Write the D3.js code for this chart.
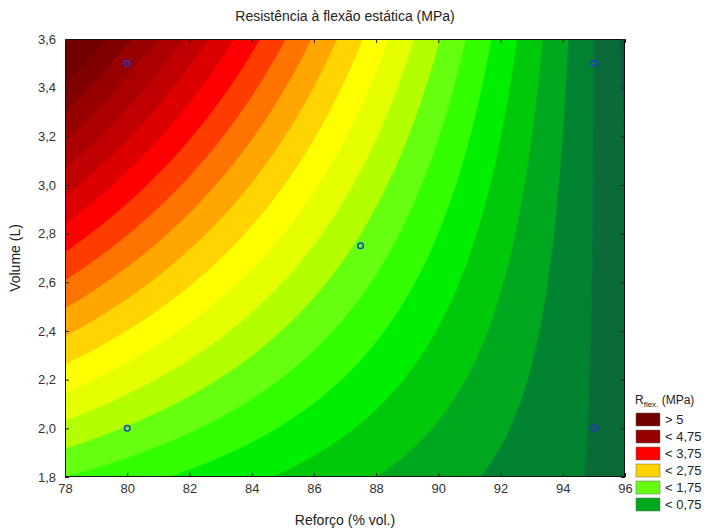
<!DOCTYPE html>
<html>
<head>
<meta charset="utf-8">
<script src="https://cdn.jsdelivr.net/npm/d3@7"></script>
<style>
  html, body { margin: 0; padding: 0; background: #fff; }
  svg { display: block; font-family: "Liberation Sans", Arial, sans-serif; }
</style>
</head>
<body>
<svg id="chart" width="709" height="531"></svg>
<script>
// Design points (reinforcement %, volume L) and measured static bending strength (MPa)
const reforco = [80, 80, 95, 95, 87.5];
const volume = [2.0, 3.5, 2.0, 3.5, 2.75];
const rflex = [1.73, 4.60, 0.23, 0.25, 1.70];

// Contour levels (MPa) and the fill for each band, lowest band first
const levels = [0, 0.25, 0.5, 0.75, 1.0, 1.25, 1.5, 1.75, 2.0, 2.25, 2.5, 2.75,
                3.0, 3.25, 3.5, 3.75, 4.0, 4.25, 4.5, 4.75, 5.0];
const bandColors = ["#0b5c3c", "#0a6b39", "#008330", "#00a820", "#00c80a", "#00ee00",
                    "#33ff00", "#66ff10", "#b3ff00", "#e6ff00", "#ffff00", "#ffd400",
                    "#ffa600", "#ff7300", "#ff3c00", "#ff0000", "#dc0000", "#c00000",
                    "#aa0000", "#960000", "#800000", "#700000"];

// Legend entries: label and a representative value inside that band
const legendLabels = ["> 5", "< 4,75", "< 3,75", "< 2,75", "< 1,75", "< 0,75"];
const legendValues = [5.1, 4.6, 3.6, 2.6, 1.6, 0.6];

// Axis ticks
const xTicks = [78, 80, 82, 84, 86, 88, 90, 92, 94, 96];
const yTicks = [1.8, 2.0, 2.2, 2.4, 2.6, 2.8, 3.0, 3.2, 3.4, 3.6];

const svg = d3.select("#chart");
const margin = { left: 65, top: 39, right: 84, bottom: 54 };
const W = 709, H = 531;
const pw = W - margin.left - margin.right;   // 560
const ph = H - margin.top - margin.bottom;   // 438

const x = d3.scaleLinear().domain([78, 96]).range([margin.left, margin.left + pw]);
const y = d3.scaleLinear().domain([1.8, 3.6]).range([margin.top + ph, margin.top]);

// First-order model with interaction, fitted on coded factors (orthogonal design)
const cx = d3.mean([d3.min(reforco), d3.max(reforco)]);
const hx = (d3.max(reforco) - d3.min(reforco)) / 2;
const cy = d3.mean([d3.min(volume), d3.max(volume)]);
const hy = (d3.max(volume) - d3.min(volume)) / 2;
const U = reforco.map(v => (v - cx) / hx);
const V = volume.map(v => (v - cy) / hy);
const b0 = d3.mean(rflex);
const b1 = d3.sum(rflex.map((z, i) => z * U[i])) / d3.sum(U.map(u => u * u));
const b2 = d3.sum(rflex.map((z, i) => z * V[i])) / d3.sum(V.map(v => v * v));
const b12 = d3.sum(rflex.map((z, i) => z * U[i] * V[i])) / d3.sum(U.map((u, i) => (u * V[i]) ** 2));
const model = (xv, yv) => {
  const u = (xv - cx) / hx, v = (yv - cy) / hy;
  return b0 + b1 * u + b2 * v + b12 * u * v;
};

// Evaluate the surface on a pixel grid covering the plot area
const nx = Math.round(pw), ny = Math.round(ph);
const grid = new Float64Array(nx * ny);
for (let j = 0; j < ny; j++) {
  const yv = y.invert(margin.top + j + 0.5);
  for (let i = 0; i < nx; i++) {
    grid[j * nx + i] = model(x.invert(margin.left + i + 0.5), yv);
  }
}

const colorFor = d3.scaleThreshold().domain(levels).range(bandColors);

svg.append("defs").append("clipPath").attr("id", "plotclip")
  .append("rect").attr("x", margin.left).attr("y", margin.top).attr("width", pw).attr("height", ph);

const plot = svg.append("g").attr("clip-path", "url(#plotclip)");
plot.append("rect")
  .attr("x", margin.left).attr("y", margin.top).attr("width", pw).attr("height", ph)
  .attr("fill", bandColors[0]);

const contours = d3.contours().size([nx, ny]).smooth(true).thresholds(levels)(grid);
plot.append("g")
  .attr("transform", `translate(${margin.left},${margin.top})`)
  .selectAll("path")
  .data(contours)
  .join("path")
  .attr("d", d3.geoPath(d3.geoIdentity()))
  .attr("fill", d => colorFor(d.value))
  .attr("stroke", d => colorFor(d.value))
  .attr("stroke-width", 0.6);

// Design points
svg.append("g").selectAll("circle")
  .data(reforco.map((r, i) => [r, volume[i]]))
  .join("circle")
  .attr("cx", d => x(d[0])).attr("cy", d => y(d[1]))
  .attr("r", 2.8)
  .attr("fill", "none")
  .attr("stroke", "#2438d0")
  .attr("stroke-width", 1.4);

// Frame
svg.append("rect")
  .attr("x", margin.left + 0.5).attr("y", margin.top + 0.5)
  .attr("width", pw - 1).attr("height", ph - 1)
  .attr("fill", "none").attr("stroke", "#111").attr("stroke-width", 1);

// Inward tick marks on all four sides
const fmt = d => d3.format(".1f")(d).replace(".", ",");
const tickLen = 4;
const gBottom = svg.append("g").attr("transform", `translate(0,${margin.top + ph})`)
  .call(d3.axisBottom(x).tickValues(xTicks).tickSize(-tickLen).tickPadding(7).tickFormat(d3.format("d")));
const gTop = svg.append("g").attr("transform", `translate(0,${margin.top})`)
  .call(d3.axisTop(x).tickValues(xTicks).tickSize(-tickLen).tickFormat(""));
const gLeft = svg.append("g").attr("transform", `translate(${margin.left},0)`)
  .call(d3.axisLeft(y).tickValues(yTicks).tickSize(-tickLen).tickPadding(9).tickFormat(fmt));
const gRight = svg.append("g").attr("transform", `translate(${margin.left + pw},0)`)
  .call(d3.axisRight(y).tickValues(yTicks).tickSize(-tickLen).tickFormat(""));
[gBottom, gTop, gLeft, gRight].forEach(g => {
  g.select(".domain").remove();
  g.selectAll(".tick line").attr("stroke", "#222");
  g.selectAll(".tick text").attr("fill", "#333").style("font-size", "13px")
    .style("font-family", "'Liberation Sans', Arial, sans-serif");
});

// Titles
svg.append("text").attr("x", 345).attr("y", 21).attr("text-anchor", "middle")
  .attr("fill", "#222").style("font-size", "14px")
  .text("Resistência à flexão estática (MPa)");
svg.append("text").attr("x", 345).attr("y", 525).attr("text-anchor", "middle")
  .attr("fill", "#222").style("font-size", "14px")
  .text("Reforço (% vol.)");
svg.append("text")
  .attr("transform", `translate(20,${margin.top + ph / 2}) rotate(-90)`)
  .attr("text-anchor", "middle").attr("fill", "#222").style("font-size", "14px")
  .text("Volume (L)");

// Legend
const lg = svg.append("g").attr("transform", "translate(635,0)");
const lt = lg.append("text").attr("x", 0).attr("y", 404).attr("fill", "#222").style("font-size", "12px");
lt.append("tspan").text("R");
lt.append("tspan").attr("dy", 3).style("font-size", "8px").text("flex.");
lt.append("tspan").attr("dy", -3).text(" (MPa)");
const items = lg.selectAll("g.item").data(legendLabels).join("g").attr("class", "item")
  .attr("transform", (d, i) => `translate(0,${413 + i * 17})`);
items.append("rect").attr("x", 1).attr("width", 24).attr("height", 13)
  .attr("fill", (d, i) => colorFor(legendValues[i]))
  .attr("stroke", "#666").attr("stroke-width", 0.5);
items.append("text").attr("x", 30).attr("y", 11).attr("fill", "#222")
  .style("font-size", "13px").text(d => d);
</script>
</body>
</html>
